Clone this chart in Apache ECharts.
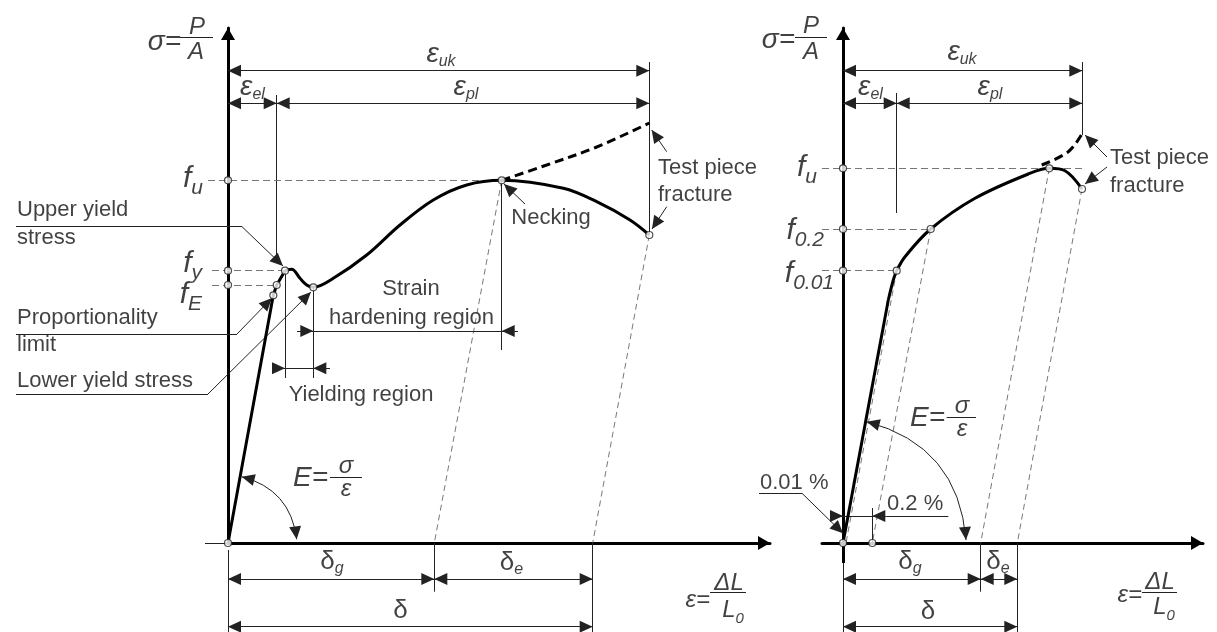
<!DOCTYPE html>
<html lang="en">
<head>
<meta charset="utf-8">
<title>Stress-strain diagrams</title>
<script src="https://cdn.jsdelivr.net/npm/echarts@6/dist/echarts.min.js"></script>
<style>
  html, body { margin: 0; padding: 0; background: #fff; }
  #main { width: 1217px; height: 632px; }
</style>
</head>
<body>
<div id="main"></div>
<script>
// diagram units: strain along x, stress along y, origin of each diagram at (0,0)

// ---- left diagram: steel with a distinct yield point ----
var leftElastic = [[0, 0], [45.3, 247.7], [48.7, 258], [57, 272.3]];
var leftPlastic = [[57, 272.3], [63.7, 273.7], [72, 264.7], [78.7, 258], [85.3, 255.7],
  [105.3, 264.7], [138.7, 288], [172, 318], [205.3, 343], [238.7, 358], [273.7, 362.7],
  [335.3, 354.7], [368.7, 341.3], [402, 323], [421.3, 308]];
var leftTrueCurve = [[273.7, 362.7], [318.7, 378], [368.7, 396], [421.3, 420]];
var leftFu = 362.7, leftFy = 272.3, leftFE = 258;
var leftPropLimit = [45.3, 247.7], leftElasticLimit = [48.7, 258];
var leftUpperYield = [57, 272.3], leftLowerYield = [85.3, 255.7];
var leftNecking = [273.7, 362.7], leftFracture = [421.3, 308];
var leftDeltaG = 206.3, leftDelta = 364.7;

// ---- right diagram: no distinct yield point ----
var rightElastic = [[0, 0], [45.3, 243]];
var rightPlastic = [[45.3, 243], [50.3, 263], [53.7, 272.3], [62, 286.3], [87.7, 314],
  [132, 344.7], [185.3, 369], [206.3, 374.7], [222, 372.3], [239, 354]];
var rightTrueCurve = [[198.7, 378], [225.3, 391.3], [239.3, 409.7]];
var rightFu = 374.7, rightF02 = 314, rightF001 = 272.3;
var rightP001 = [53.7, 272.3], rightP02 = [87.7, 314];
var rightPeak = [206.3, 374.7], rightFracture = [239, 354];
var rightOffset001 = 3, rightOffset02 = 29.3;
var rightDeltaG = 137.7, rightDelta = 174.3;

var FONT = '"Liberation Sans", Arial, sans-serif';
var ARROW = 'path://M0,0 M0,13 L6,26 L-6,26 Z';
var AXIS_ARROW = 'path://M0,0 M0,12 L7,24 L-7,24 Z';

var STYLE = {
  dim: { color: '#222', width: 1 },
  guide: { color: '#777', width: 1, type: [7, 4] },
  unload: { color: '#555', width: 0.8, type: [6, 4] },
  bar: { color: '#222', width: 1 },
  axis: { color: '#000', width: 3 }
};

function seg(a, b, style, arrows, curve) {
  var ls = Object.assign({}, STYLE[style]);
  if (curve) ls.curveness = curve;
  arrows = arrows || '';
  return {
    coords: [a, b],
    lineStyle: ls,
    symbol: [arrows.indexOf('<') >= 0 ? ARROW : 'none', arrows.indexOf('>') >= 0 ? ARROW : 'none']
  };
}

var leftSegs = [
  // stub of the strain axis left of the origin
  seg([-23, 0], [0, 0], 'dim'),
  // strain dimensions on top
  seg([0, 472.3], [leftFracture[0], 472.3], 'dim', '<>'),
  seg([0, 439.7], [leftElasticLimit[0], 439.7], 'dim', '<>'),
  seg([leftElasticLimit[0], 439.7], [leftFracture[0], 439.7], 'dim', '<>'),
  seg([leftElasticLimit[0], 448], [leftElasticLimit[0], 281], 'dim'),
  seg([leftFracture[0], 481], leftFracture, 'dim'),
  // stress levels
  seg([-20, leftFu], leftNecking, 'guide'),
  seg([-16, leftFy], leftUpperYield, 'guide'),
  seg([-16, leftFE], leftElasticLimit, 'guide'),
  // elastic unloading
  seg(leftNecking, [leftDeltaG, 0], 'unload'),
  seg(leftFracture, [leftDelta, 0], 'unload'),
  // yielding and hardening regions
  seg(leftUpperYield, [leftUpperYield[0], 165], 'dim'),
  seg(leftLowerYield, [leftLowerYield[0], 165], 'dim'),
  seg(leftNecking, [leftNecking[0], 193], 'dim'),
  seg([45, 174.7], [leftUpperYield[0], 174.7], 'dim', '>'),
  seg([102, 174.7], [leftLowerYield[0], 174.7], 'dim', '>'),
  seg([leftUpperYield[0], 174.7], [leftLowerYield[0], 174.7], 'dim'),
  seg([69, 212], [leftLowerYield[0], 212], 'dim', '>'),
  seg([290, 212], [leftNecking[0], 212], 'dim', '>'),
  seg([leftLowerYield[0], 212], [leftNecking[0], 212], 'dim'),
  // leaders
  seg([-212, 316.3], [14, 316.3], 'dim'),
  seg([14, 316.3], [55, 277], 'dim', '>'),
  seg([-212, 209], [9, 209], 'dim'),
  seg([9, 209], [44, 245], 'dim', '>'),
  seg([-212, 149], [-20, 149], 'dim'),
  seg([-20, 149], [83, 251], 'dim', '>'),
  seg([297, 339], [276, 359], 'dim', '>'),
  seg([438.7, 391.3], [423.7, 413], 'dim', '>'),
  seg([438.7, 336.3], [424, 314], 'dim', '>'),
  // E arc
  seg([13.7, 66.3], [68.7, 3.7], 'dim', '<>', 0.34),
  // fraction bars
  seg([-48, 506], [-15, 506], 'bar'),
  seg([102, 66], [134, 66], 'bar'),
  seg([482, -49.3], [518, -49.3], 'bar'),
  // bottom dimensions
  seg([0, -7], [0, -89], 'dim'),
  seg([leftDeltaG, 0], [leftDeltaG, -48.7], 'dim'),
  seg([leftDelta, 0], [leftDelta, -89], 'dim'),
  seg([0, -36], [leftDeltaG, -36], 'dim', '<>'),
  seg([leftDeltaG, -36], [leftDelta, -36], 'dim', '<>'),
  seg([0, -83.7], [leftDelta, -83.7], 'dim', '<>')
];

var rightSegs = [
  seg([0, 472.3], [239.3, 472.3], 'dim', '<>'),
  seg([0, 439.7], [rightP001[0], 439.7], 'dim', '<>'),
  seg([rightP001[0], 439.7], [239.3, 439.7], 'dim', '<>'),
  seg([rightP001[0], 450], [rightP001[0], 330], 'dim'),
  seg([239.3, 481], [239.3, 408], 'dim'),
  seg([-21, rightFu], [240, rightFu], 'guide'),
  seg([-21, rightF02], rightP02, 'guide'),
  seg([-21, rightF001], rightP001, 'guide'),
  seg(rightP001, [rightOffset001, 0], 'unload'),
  seg(rightP02, [rightOffset02, 0], 'unload'),
  seg(rightPeak, [rightDeltaG, 0], 'unload'),
  seg(rightFracture, [rightDelta, 0], 'unload'),
  // offset strain marks
  seg([-13, 27], [0, 27], 'dim', '>'),
  seg([0, 27], [rightOffset02, 27], 'dim'),
  seg([43.7, 27], [rightOffset02, 27], 'dim', '>'),
  seg([43.7, 27], [105.3, 27], 'dim'),
  seg([rightOffset02, 35], [rightOffset02, 0], 'dim'),
  seg([-84, 49.7], [-41, 49.7], 'dim'),
  seg([-41, 49.7], [0, 9.7], 'dim', '>'),
  // fracture leaders
  seg([264, 386], [242, 408], 'dim', '>'),
  seg([264, 376], [242, 359], 'dim', '>'),
  // E arc
  seg([23.7, 121.3], [123, 3], 'dim', '<>', 0.355),
  // fraction bars
  seg([-48, 505.7], [-16, 505.7], 'bar'),
  seg([103.7, 126], [133, 126], 'bar'),
  seg([299, -49.7], [334, -49.7], 'bar'),
  // bottom dimensions
  seg([0, 0], [0, -20], 'axis'),
  seg([0, -20], [0, -89], 'dim'),
  seg([rightDeltaG, 0], [rightDeltaG, -48.7], 'dim'),
  seg([rightDelta, 0], [rightDelta, -89], 'dim'),
  seg([0, -36], [rightDeltaG, -36], 'dim', '<>'),
  seg([rightDeltaG, -36], [rightDelta, -36], 'dim', '<>'),
  seg([0, -83.7], [rightDelta, -83.7], 'dim', '<>')
];

var leftPoints = [[0, 0], [0, leftFu], [0, leftFy], [0, leftFE], leftPropLimit, leftElasticLimit,
  leftUpperYield, leftLowerYield, leftNecking, leftFracture];
var rightPoints = [[0, 0], [0, rightFu], [0, rightF02], [0, rightF001], rightP001, rightP02,
  rightPeak, rightFracture, [rightOffset02, 0]];

var leftNotes = [
  { v: [-47, 501], t: '{g|σ=}', a: 'right' },
  { v: [-31, 516], t: '{q|P}' },
  { v: [-32, 491], t: '{q|A}' },
  { v: [213, 488], t: '{g|ε}{s|uk}' },
  { v: [24.5, 455], t: '{g|ε}{s|el}' },
  { v: [238, 455], t: '{g|ε}{s|pl}' },
  { v: [-25, 362], t: '{f|f}{fs|u}', a: 'right' },
  { v: [-26, 277], t: '{f|f}{fs|y}', a: 'right' },
  { v: [-26, 246], t: '{f|f}{fs|E}', a: 'right' },
  { v: [-211, 333], t: '{t|Upper yield}', a: 'left' },
  { v: [-211, 305.5], t: '{t|stress}', a: 'left' },
  { v: [-211, 225], t: '{t|Proportionality}', a: 'left' },
  { v: [-211, 198], t: '{t|limit}', a: 'left' },
  { v: [-211, 162], t: '{t|Lower yield stress}', a: 'left' },
  { v: [183, 254], t: '{t|Strain}' },
  { v: [183.5, 225], t: '{t|hardening region}' },
  { v: [133, 148], t: '{t|Yielding region}' },
  { v: [323, 325], t: '{t|Necking}' },
  { v: [430, 375], t: '{t|Test piece}', a: 'left' },
  { v: [430, 348], t: '{t|fracture}', a: 'left' },
  { v: [65, 65], t: '{g|E=}', a: 'left' },
  { v: [118, 77], t: '{q|σ}' },
  { v: [118, 54], t: '{q|ε}' },
  { v: [104, -20], t: '{d|δ}{ds|g}' },
  { v: [283.5, -21], t: '{d|δ}{ds|e}' },
  { v: [172.5, -68], t: '{d|δ}' },
  { v: [482, -57], t: '{q|ε=}', a: 'right' },
  { v: [501, -40], t: '{q|ΔL}' },
  { v: [505, -69], t: '{q|L}{qs|0}' }
];

var rightNotes = [
  { v: [-48, 503], t: '{g|σ=}', a: 'right' },
  { v: [-32, 517], t: '{q|P}' },
  { v: [-32, 491], t: '{q|A}' },
  { v: [119, 490], t: '{g|ε}{s|uk}' },
  { v: [27.5, 455], t: '{g|ε}{s|el}' },
  { v: [147, 455], t: '{g|ε}{s|pl}' },
  { v: [-26, 373], t: '{f|f}{fs|u}', a: 'right' },
  { v: [-19, 310], t: '{f|f}{fs|0.2}', a: 'right' },
  { v: [-9, 267], t: '{f|f}{fs|0.01}', a: 'right' },
  { v: [267, 385.5], t: '{t|Test piece}', a: 'left' },
  { v: [267, 357], t: '{t|fracture}', a: 'left' },
  { v: [67, 125], t: '{g|E=}', a: 'left' },
  { v: [119, 137], t: '{q|σ}' },
  { v: [119, 114], t: '{q|ε}' },
  { v: [-83, 60.5], t: '{t|0.01 %}', a: 'left' },
  { v: [44, 39], t: '{t|0.2 %}', a: 'left' },
  { v: [67, -20], t: '{d|δ}{ds|g}' },
  { v: [155, -20], t: '{d|δ}{ds|e}' },
  { v: [85, -69], t: '{d|δ}' },
  { v: [299, -52], t: '{q|ε=}', a: 'right' },
  { v: [317, -39], t: '{q|ΔL}' },
  { v: [321, -66], t: '{q|L}{qs|0}' }
];

var rich = {
  t: { fontFamily: FONT, fontSize: 22, color: '#111' },
  g: { fontFamily: FONT, fontSize: 28, fontStyle: 'italic', color: '#111', verticalAlign: 'top' },
  s: { fontFamily: FONT, fontSize: 16, fontStyle: 'italic', color: '#111', verticalAlign: 'top', padding: [14, 0, 0, 0] },
  f: { fontFamily: FONT, fontSize: 30, fontStyle: 'italic', color: '#111', verticalAlign: 'top' },
  fs: { fontFamily: FONT, fontSize: 21, fontStyle: 'italic', color: '#111', verticalAlign: 'top', padding: [14, 0, 0, 0] },
  q: { fontFamily: FONT, fontSize: 24, fontStyle: 'italic', color: '#111', verticalAlign: 'top' },
  qs: { fontFamily: FONT, fontSize: 15, fontStyle: 'italic', color: '#111', verticalAlign: 'top', padding: [13, 0, 0, 0] },
  d: { fontFamily: FONT, fontSize: 26, color: '#111', verticalAlign: 'top' },
  ds: { fontFamily: FONT, fontSize: 16, fontStyle: 'italic', color: '#111', verticalAlign: 'top', padding: [12, 0, 0, 0] }
};

function axisPair(grid, xmin, xmax) {
  var line = { show: true, onZero: true, symbol: ['none', AXIS_ARROW], symbolSize: [14, 24], lineStyle: STYLE.axis };
  var common = { gridIndex: grid, type: 'value', axisLine: line, axisTick: { show: false },
    axisLabel: { show: false }, splitLine: { show: false } };
  return {
    x: Object.assign({ min: xmin, max: xmax }, common),
    y: Object.assign({ min: 0, max: 515 }, common)
  };
}
var ax0 = axisPair(0, 0, 542);
var ax1 = axisPair(1, -21, 360);

function curve(grid, data, smooth, dashed) {
  return {
    type: 'line', xAxisIndex: grid, yAxisIndex: grid, data: data, showSymbol: false,
    smooth: smooth, z: 4,
    lineStyle: { color: '#000', width: 3, type: dashed ? [9, 5] : 'solid' }
  };
}
function segments(grid, data) {
  return {
    type: 'lines', coordinateSystem: 'cartesian2d', xAxisIndex: grid, yAxisIndex: grid,
    clip: false, z: 3, symbolSize: [[12, 26], [12, 26]], lineStyle: { opacity: 1 }, data: data
  };
}
function points(grid, data) {
  return {
    type: 'scatter', xAxisIndex: grid, yAxisIndex: grid, clip: false, z: 5, symbol: 'circle', symbolSize: 7,
    itemStyle: { color: '#fff', borderColor: '#222', borderWidth: 1.2 }, data: data
  };
}
function notes(grid, list) {
  return {
    type: 'scatter', xAxisIndex: grid, yAxisIndex: grid, clip: false, z: 6, symbolSize: 1,
    itemStyle: { color: 'rgba(0,0,0,0)' },
    data: list.map(function (n) {
      return { value: n.v, t: n.t, label: { align: n.a || 'center' } };
    }),
    label: { show: true, position: 'inside', formatter: function (p) { return p.data.t; }, rich: rich }
  };
}

var chart = echarts.init(document.getElementById('main'));
chart.setOption({
  animation: false,
  backgroundColor: '#fff',
  grid: [
    { left: 228, top: 28, width: 542, height: 515 },
    { left: 822, top: 28, width: 381, height: 515 }
  ],
  xAxis: [ax0.x, ax1.x],
  yAxis: [ax0.y, ax1.y],
  series: [
    segments(0, leftSegs),
    segments(1, rightSegs),
    curve(0, leftElastic, false),
    curve(0, leftPlastic, 0.35),
    curve(0, leftTrueCurve, 0.35, true),
    curve(1, rightElastic, false),
    curve(1, rightPlastic, 0.35),
    curve(1, rightTrueCurve, 0.35, true),
    points(0, leftPoints),
    points(1, rightPoints),
    notes(0, leftNotes),
    notes(1, rightNotes)
  ]
});
</script>
</body>
</html>
